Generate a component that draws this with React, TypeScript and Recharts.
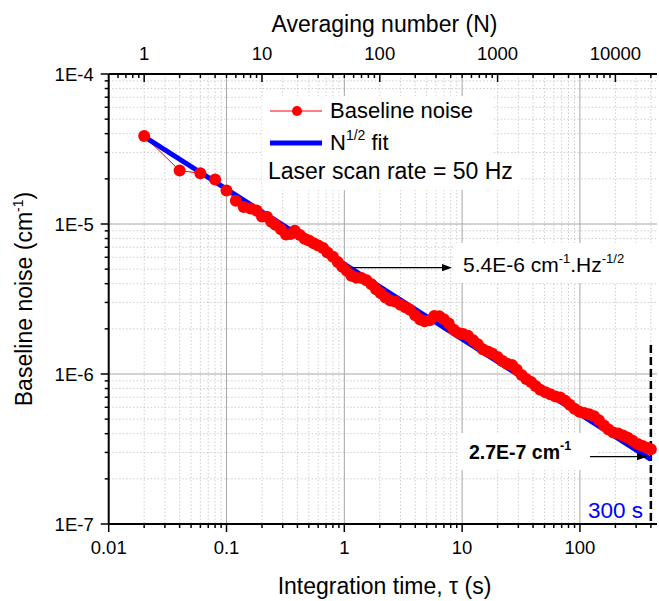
import React from "react"
import { LineChart, Line, XAxis, YAxis, CartesianGrid, ReferenceLine } from "recharts"

const FONT = '"Liberation Sans", Arial, Helvetica, sans-serif'

// integration time tau (s), one point per averaging step
const tau = [
  0.02, 0.04, 0.06, 0.08, 0.1, 0.12, 0.14, 0.16, 0.18, 0.2, 0.22, 0.24, 0.26, 0.29, 0.32, 0.35, 0.38,
  0.42, 0.46, 0.5, 0.55, 0.6, 0.66, 0.72, 0.8, 0.88, 0.96, 1.05, 1.15, 1.26, 1.4, 1.54, 1.7, 1.86,
  2.04, 2.24, 2.46, 2.7, 3.0, 3.3, 3.6, 4.0, 4.4, 4.8, 5.3, 5.8, 6.4, 7.0, 7.7, 8.5, 9.3, 10.2, 11.2,
  12.4, 13.6, 15, 16.5, 18, 20, 22, 24, 26.5, 29, 32, 35, 38.5, 42, 46, 51, 56, 62, 68, 75, 82, 90,
  99, 109, 120, 132, 145, 160, 175, 192, 211, 232, 255, 280, 310, 340, 370, 400,
]

// baseline noise (cm-1)
const noise = [
  38.6e-6, 22.7e-6, 21.8e-6, 19.8e-6, 16.7e-6, 14.3e-6, 13.0e-6, 12.7e-6, 12.3e-6, 11.2e-6, 11.17e-6,
  10.36e-6, 9.88e-6, 9.22e-6, 8.51e-6, 8.58e-6, 9.03e-6, 8.46e-6, 7.96e-6, 7.75e-6, 7.45e-6, 7.19e-6,
  6.91e-6, 6.46e-6, 6.04e-6, 5.58e-6, 5.18e-6, 4.88e-6, 4.52e-6, 4.39e-6, 4.36e-6, 4.22e-6, 3.96e-6,
  3.67e-6, 3.45e-6, 3.24e-6, 3.09e-6, 3.04e-6, 2.89e-6, 2.79e-6, 2.68e-6, 2.46e-6, 2.31e-6, 2.25e-6,
  2.28e-6, 2.44e-6, 2.43e-6, 2.32e-6, 2.17e-6, 1.97e-6, 1.88e-6, 1.85e-6, 1.8e-6, 1.68e-6, 1.58e-6,
  1.46e-6, 1.41e-6, 1.37e-6, 1.3e-6, 1.22e-6, 1.17e-6, 1.15e-6, 1.07e-6, 0.984e-6, 0.926e-6, 0.883e-6,
  0.833e-6, 0.784e-6, 0.756e-6, 0.732e-6, 0.707e-6, 0.696e-6, 0.663e-6, 0.624e-6, 0.587e-6, 0.56e-6,
  0.55e-6, 0.54e-6, 0.523e-6, 0.491e-6, 0.454e-6, 0.427e-6, 0.408e-6, 0.401e-6, 0.389e-6, 0.376e-6,
  0.359e-6, 0.341e-6, 0.331e-6, 0.322e-6, 0.315e-6,
]

// N^1/2 fit, end points
const fitTau = [0.02, 400]
const fitNoise = [3.82e-5, 2.7e-7]

const scanRate = 50 // Hz -> N = tau * scanRate

const tauDecades = [0.01, 0.1, 1, 10, 100]
const nDecades = [0.1, 1, 10, 100, 1000, 10000]
const noiseDecades = [1e-7, 1e-6, 1e-5, 1e-4]
const minorSteps = [2, 3, 4, 5, 6, 7, 8, 9]

const tauDomain = [0.01, 451]
const noiseDomain = [1e-7, 1e-4]
const nDomain = [tauDomain[0] * scanRate, tauDomain[1] * scanRate]

const isMajor = (v: number) => {
  const lg = Math.log10(v)
  return Math.abs(lg - Math.round(lg)) < 1e-6
}

const expand = (decades: number[], lo: number, hi: number) =>
  decades
    .flatMap((d) => [d, ...minorSteps.map((m) => +(d * m).toPrecision(3))])
    .filter((v) => v > lo * 0.999 && v <= hi)

const tauTicks = expand(tauDecades, tauDomain[0], tauDomain[1])
const nTicks = expand(nDecades, nDomain[0] * 1.01, nDomain[1])
const noiseTicks = expand(noiseDecades, noiseDomain[0], noiseDomain[1])

const noiseData = tau.map((t, i) => ({ tau: t, noise: noise[i] }))
const fitData = fitTau.map((t, i) => ({ tau: t, fit: fitNoise[i] }))

const TICK_FONT = 18.5

function BottomTick({ x, y, payload }: any) {
  const major = isMajor(payload.value)
  return (
    <g>
      <line x1={x} x2={x} y1={y} y2={y + (major ? 8 : 4)} stroke="#000" strokeWidth={1.5} />
      {major && (
        <text x={x} y={y + 30} textAnchor="middle" fontSize={TICK_FONT} fontFamily={FONT} fill="#000">
          {String(payload.value)}
        </text>
      )}
    </g>
  )
}

function TopTick({ x, y, payload }: any) {
  const major = isMajor(payload.value)
  return (
    <g>
      <line x1={x} x2={x} y1={y} y2={y + (major ? 8 : 4)} stroke="#000" strokeWidth={1.5} />
      {major && (
        <text x={x} y={y - 14} textAnchor="middle" fontSize={TICK_FONT} fontFamily={FONT} fill="#000">
          {String(payload.value)}
        </text>
      )}
    </g>
  )
}

function LeftTick({ x, y, payload }: any) {
  const major = isMajor(payload.value)
  return (
    <g>
      <line x1={x} x2={x - (major ? 8 : 4)} y1={y} y2={y} stroke="#000" strokeWidth={1.5} />
      {major && (
        <text x={x - 15} y={y + 6.6} textAnchor="end" fontSize={TICK_FONT} fontFamily={FONT} fill="#000">
          {`1E${Math.round(Math.log10(payload.value))}`}
        </text>
      )}
    </g>
  )
}

function Arrow({ x1, x2, y }: { x1: number; x2: number; y: number }) {
  return (
    <g>
      <line x1={x1} x2={x2 - 8} y1={y} y2={y} stroke="#000" strokeWidth={1.2} />
      <polygon points={`${x2},${y} ${x2 - 10},${y - 3.6} ${x2 - 10},${y + 3.6}`} fill="#000" />
    </g>
  )
}

function Overlay() {
  return (
    <svg
      width={659}
      height={601}
      style={{ position: "absolute", left: 0, top: 0, pointerEvents: "none" }}
      fontFamily={FONT}
    >
      {/* axis titles */}
      <text x={384.5} y={32} textAnchor="middle" fontSize={23} fill="#000">
        Averaging number (N)
      </text>
      <text x={384.5} y={594} textAnchor="middle" fontSize={23} fill="#000">
        Integration time, τ (s)
      </text>
      <text x={32} y={299} transform="rotate(-90 32 299)" textAnchor="middle" fontSize={23} fill="#000">
        Baseline noise (cm
        <tspan fontSize={14} dy={-9}>-1</tspan>
        <tspan dy={9}>)</tspan>
      </text>

      {/* legend */}
      <rect x={262} y={96} width={231} height={94} fill="#fff" />
      <rect x={262} y={155} width={258} height={35} fill="#fff" />
      <line x1={270} x2={322} y1={111} y2={111} stroke="#ff0000" strokeWidth={1} />
      <circle cx={297} cy={111} r={5} fill="#ff0000" />
      <text x={330} y={118} fontSize={22} fill="#000">
        Baseline noise
      </text>
      <line x1={270} x2={322} y1={143} y2={143} stroke="#0000ff" strokeWidth={5} />
      <text x={330} y={150} fontSize={22} fill="#000">
        N<tspan fontSize={14} dy={-10}>1/2</tspan>
        <tspan dy={10}> fit</tspan>
      </text>
      <text x={268} y={179} fontSize={23} fill="#000">
        Laser scan rate = 50 Hz
      </text>

      {/* slope annotation */}
      <rect x={453} y={243} width={206} height={40} fill="#fff" />
      <text x={463} y={272} fontSize={21} fill="#000">
        5.4E-6 cm<tspan fontSize={13} dy={-9}>-1</tspan>
        <tspan dy={9}>.Hz</tspan>
        <tspan fontSize={13} dy={-9}>-1/2</tspan>
      </text>
      <Arrow x1={350} x2={452} y={267.7} />

      {/* end value annotation */}
      <rect x={458} y={433} width={140} height={37} fill="#fff" />
      <text x={469} y={458.5} fontSize={19.5} fontWeight="bold" fill="#000">
        2.7E-7 cm<tspan fontSize={12.5} dy={-8.5}>-1</tspan>
      </text>
      <Arrow x1={590} x2={647} y={456.7} />

      <text x={643} y={518} textAnchor="end" fontSize={22.5} fill="#0000ff">
        300 s
      </text>
    </svg>
  )
}

export default function App() {
  return (
    <div style={{ position: "absolute", left: 0, top: 0, width: 659, height: 601, background: "#fff" }}>
      <LineChart width={659} height={601} margin={{ top: 0, right: 2, bottom: 0, left: 0 }}>
        <CartesianGrid
          xAxisId="bottom"
          yAxisId="left"
          verticalValues={tauTicks.filter((v) => !isMajor(v))}
          horizontalValues={noiseTicks.filter((v) => !isMajor(v))}
          stroke="#cdcdcd"
          strokeDasharray="1.5 2"
        />
        <CartesianGrid
          xAxisId="bottom"
          yAxisId="left"
          verticalValues={tauDecades.slice(1)}
          horizontalValues={noiseDecades.slice(1, 3)}
          stroke="#a6a6a6"
        />
        <XAxis
          xAxisId="bottom"
          dataKey="tau"
          type="number"
          scale="log"
          domain={tauDomain}
          allowDataOverflow
          ticks={tauTicks}
          interval={0}
          tick={<BottomTick />}
          tickLine={false}
          tickSize={0}
          tickMargin={0}
          height={77}
          axisLine={{ stroke: "#000", strokeWidth: 2 }}
        />
        <XAxis
          xAxisId="top"
          orientation="top"
          dataKey="n"
          type="number"
          scale="log"
          domain={nDomain}
          allowDataOverflow
          ticks={nTicks}
          interval={0}
          tick={<TopTick />}
          tickLine={false}
          tickSize={0}
          tickMargin={0}
          height={74}
          axisLine={{ stroke: "#000", strokeWidth: 2 }}
        />
        <YAxis
          yAxisId="left"
          type="number"
          scale="log"
          domain={noiseDomain}
          allowDataOverflow
          ticks={noiseTicks}
          interval={0}
          tick={<LeftTick />}
          tickLine={false}
          tickSize={0}
          tickMargin={0}
          width={108.7}
          axisLine={{ stroke: "#000", strokeWidth: 2 }}
        />
        <ReferenceLine
          xAxisId="bottom"
          yAxisId="left"
          segment={[
            { x: 400, y: 1.56e-6 },
            { x: 400, y: 1e-7 },
          ]}
          stroke="#000"
          strokeWidth={2.5}
          strokeDasharray="8 4"
        />
        <Line
          xAxisId="bottom"
          yAxisId="left"
          data={noiseData}
          dataKey="noise"
          type="linear"
          stroke="#ff0000"
          strokeWidth={1}
          dot={{ r: 6, fill: "#ff0000", stroke: "#ff0000", strokeWidth: 0 }}
          activeDot={false}
          isAnimationActive={false}
        />
        <Line
          xAxisId="bottom"
          yAxisId="left"
          data={fitData}
          dataKey="fit"
          type="linear"
          stroke="#0000ff"
          strokeWidth={5}
          dot={false}
          activeDot={false}
          isAnimationActive={false}
        />
      </LineChart>
      <Overlay />
    </div>
  )
}
